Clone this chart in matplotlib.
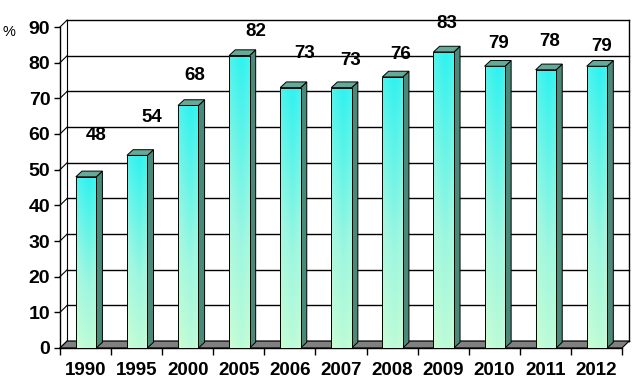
import numpy as np
import matplotlib
matplotlib.use("Agg")
import matplotlib.pyplot as plt
from matplotlib.patches import Polygon, Rectangle
from matplotlib.colors import LinearSegmentedColormap

years = ["1990", "1995", "2000", "2005", "2006", "2007", "2008", "2009", "2010", "2011", "2012"]
values = [48, 54, 68, 82, 73, 73, 76, 83, 79, 78, 79]
yticks = [0, 10, 20, 30, 40, 50, 60, 70, 80, 90]

# where excel put the data labels (offset from bar top, in data units)
label_dx = [0.2, 0.3, 0.14, 0.34, 0.29, 0.18, 0.17, 0.07, 0.09, 0.09, 0.1]
label_dy = [11.7, 10.5, 8.3, 6.6, 9.7, 7.7, 6.2, 8.1, 6.5, 7.8, 5.4]

plt.rcParams['font.family'] = ['Liberation Sans', 'DejaVu Sans']

fig = plt.figure(figsize=(6.41, 3.83), dpi=100)
ax = fig.add_axes([60 / 641, 35 / 383, 562 / 641, 321 / 383])
ax.set_xlim(-0.5, 10.5)
ax.set_ylim(0, 90)

# depth of the wall and the bars
wdx, wdy = 0.14, 1.95
bdx, bdy = 0.12, 1.6
bw0, bw1 = -0.19, 0.21

# back wall gridlines + slanted connectors
for v in yticks:
    ax.plot([-0.5 + wdx, 10.5 + wdx], [v + wdy, v + wdy], color="black", lw=1.0, clip_on=False, zorder=1)
    ax.plot([-0.5, -0.5 + wdx], [v, v + wdy], color="black", lw=0.8, clip_on=False, zorder=1)
ax.plot([-0.5 + wdx, -0.5 + wdx], [wdy, 90 + wdy], color="black", lw=0.8, clip_on=False, zorder=1)
ax.plot([10.5 + wdx, 10.5 + wdx], [wdy, 90 + wdy], color="black", lw=1.0, clip_on=False, zorder=1)

# floor
floor = Polygon([(-0.5, 0), (10.5, 0), (10.5 + wdx, wdy), (-0.5 + wdx, wdy)],
                closed=True, facecolor="#808080", edgecolor="black", lw=0.8, clip_on=False, zorder=2)
ax.add_patch(floor)

# gradient for front faces: cyan top, pale green bottom
cmap = LinearSegmentedColormap.from_list("bar", ["#d6ffd0", "#9ff7e0", "#2ef2f0"])
gx, gy = np.meshgrid(np.linspace(0, 1, 40), np.linspace(0, 1, 200))

for i, v in enumerate(values):
    x0, x1 = i + bw0, i + bw1
    side = Polygon([(x1, 0), (x1 + bdx, bdy), (x1 + bdx, v + bdy), (x1, v)], closed=True,
                   facecolor="#4a8878", edgecolor="black", lw=0.7, clip_on=False, zorder=3)
    top = Polygon([(x0, v), (x1, v), (x1 + bdx, v + bdy), (x0 + bdx, v + bdy)], closed=True,
                  facecolor="#64aa98", edgecolor="black", lw=0.7, clip_on=False, zorder=3)
    ax.add_patch(side)
    ax.add_patch(top)
    grad = 0.75 * gy + 0.25 * (1 - np.abs(gx - 0.6))
    im = ax.imshow(grad, cmap=cmap, extent=[x0, x1, 0, v], origin="lower",
                   aspect="auto", zorder=3, vmin=0, vmax=1)
    front = Rectangle((x0, 0), x1 - x0, v, facecolor="none", edgecolor="black", lw=0.7, zorder=4)
    ax.add_patch(front)
    im.set_clip_path(front)
    ax.text(i + label_dx[i], v + label_dy[i], str(v), ha="center", va="center",
            fontsize=13.5, fontweight="bold", zorder=5, clip_on=False)

ax.set_xlim(-0.5, 10.5)
ax.set_ylim(0, 90)

for s in ["top", "right"]:
    ax.spines[s].set_visible(False)
ax.spines["left"].set_linewidth(1.0)
ax.spines["bottom"].set_linewidth(1.0)

ax.set_yticks(yticks)
ax.set_yticklabels([str(t) for t in yticks], fontsize=14, fontweight="bold")
ax.tick_params(axis="y", length=4, width=1, pad=3)

ax.set_xticks(range(len(years)))
ax.set_xticklabels(years, fontsize=13.5, fontweight="bold")
ax.tick_params(axis="x", which="major", length=0, pad=10)
ax.set_xticks(np.arange(-0.5, 11, 1), minor=True)
ax.tick_params(axis="x", which="minor", length=5, width=1)

fig.text(9 / 641, 1 - 32 / 383, "%", fontsize=10.5, ha="center", va="center")

fig.savefig("out.png", dpi=100)
